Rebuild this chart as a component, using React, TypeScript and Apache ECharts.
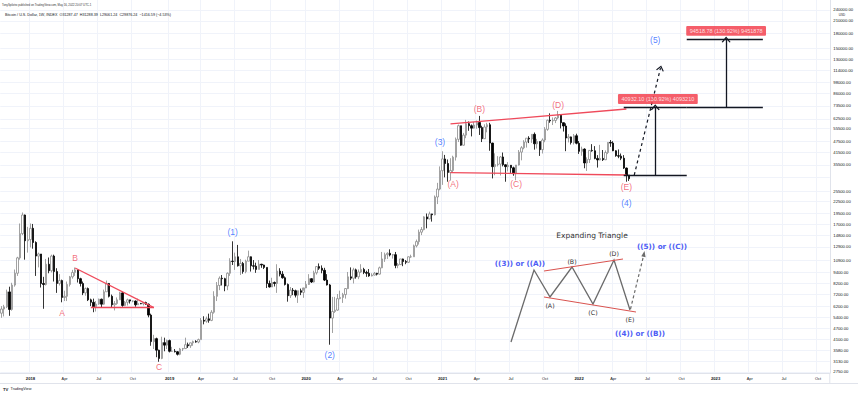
import React, { useEffect, useRef } from "react";
import * as echarts from "echarts";

// ---------- axis categories ----------
const FIRST_WEEK = "2017-10-16";
const WEEK_COUNT = 316;
const MONTH_NAMES = ["Jan", "Feb", "Mar", "Apr", "May", "Jun", "Jul", "Aug", "Sep", "Oct", "Nov", "Dec"];

// ---------- weekly candles [open, high, low, close] ----------
const weeks2017 = [
  [5680, 6200, 5370, 5980], [5980, 6300, 5460, 6140], [6140, 7600, 6050, 7390], [7390, 7880, 5500, 5950],
  [5950, 8270, 5860, 8040], [8040, 9740, 7880, 9310], [9310, 11400, 9000, 11250], [11250, 17200, 11000, 15170],
  [15170, 19700, 14900, 19100], [19100, 19200, 11000, 13900], [13900, 16500, 12000, 14100],
];
const weeks2018 = [
  [14100, 17200, 12800, 16200], [16200, 17100, 12600, 13600], [13600, 13800, 9000, 11500], [11500, 12000, 10000, 11800],
  [11800, 11800, 7800, 8200], [8200, 8900, 6000, 8100], [8100, 11100, 8000, 10400], [10400, 11300, 9300, 9600],
  [9600, 11700, 9400, 11500], [11500, 11700, 8400, 9500], [9500, 9900, 7300, 8200], [8200, 9200, 8000, 8500],
  [8500, 8600, 6500, 6900], [6900, 7500, 6600, 7000], [7000, 8400, 6600, 8100], [8100, 9000, 7900, 8900],
  [8900, 9700, 8700, 9400], [9400, 9990, 9000, 9700], [9700, 9700, 8300, 8700], [8700, 8800, 7900, 8200],
  [8200, 8400, 7100, 7300], [7300, 7800, 7050, 7700], [7700, 7800, 6600, 6700], [6700, 6800, 6200, 6500],
  [6500, 6800, 5750, 6150], [6150, 6600, 5800, 6360], [6360, 6800, 6300, 6750], [6750, 6800, 6100, 6350],
  [6350, 7600, 6300, 7400], [7400, 8500, 7400, 8200], [8200, 8250, 6900, 7000], [7000, 7150, 6100, 6300],
  [6300, 6600, 5880, 6400], [6400, 6900, 6300, 6700], [6700, 7400, 6700, 7300], [7300, 7400, 6150, 6250],
  [6250, 6600, 6200, 6500], [6500, 6800, 6250, 6700], [6700, 6700, 6400, 6600], [6600, 6650, 6500, 6600],
  [6600, 6650, 6150, 6300], [6300, 6800, 6300, 6400], [6400, 6450, 6350, 6380], [6380, 6480, 6250, 6480],
  [6480, 6550, 6300, 6350], [6350, 6400, 5400, 5550], [5550, 5650, 3800, 4000], [4000, 4350, 3650, 4150],
  [4150, 4200, 3300, 3600], [3600, 3620, 3120, 3250], [3250, 4250, 3220, 3950], [3950, 4200, 3550, 3830],
];
const weeks2019 = [
  [3830, 4100, 3650, 4050], [4050, 4100, 3500, 3550], [3550, 3750, 3530, 3550], [3550, 3650, 3500, 3530],
  [3530, 3560, 3370, 3420], [3420, 3700, 3380, 3650], [3650, 3700, 3560, 3670], [3670, 4200, 3650, 3850],
  [3850, 3950, 3700, 3800], [3800, 3950, 3700, 3940], [3940, 4050, 3800, 4000], [4000, 4070, 3950, 3980],
  [3980, 4150, 3920, 4100], [4100, 5350, 4100, 5200], [5200, 5470, 4950, 5150], [5150, 5450, 5050, 5300],
  [5300, 5650, 5050, 5200], [5200, 5900, 5150, 5750], [5750, 7450, 5650, 7000], [7000, 8350, 6600, 8000],
  [8000, 8950, 7550, 8750], [8750, 9100, 8000, 8700], [8700, 8800, 7450, 7950], [7950, 9400, 7550, 9300],
  [9300, 11200, 9000, 10800], [10800, 13800, 10300, 10750], [10750, 12000, 9700, 11400], [11400, 13200, 10100, 10200],
  [10200, 11100, 9100, 10500], [10500, 10700, 9250, 9500], [9500, 11000, 9300, 10800], [10800, 12300, 10800, 11400],
  [11400, 11450, 9500, 10200], [10200, 10950, 9750, 10150], [10150, 10600, 9350, 9750], [9750, 10950, 9750, 10400],
  [10400, 10450, 9950, 10300], [10300, 10350, 9800, 10000], [10000, 10000, 7750, 8200], [8200, 8500, 7800, 7850],
  [7850, 8800, 7850, 8300], [8300, 8400, 7900, 8200], [8200, 10400, 7300, 9550], [9550, 9900, 8950, 9200],
  [9200, 9550, 8700, 8800], [8800, 8950, 8000, 8100], [8100, 8200, 6550, 7050], [7050, 7850, 6850, 7550],
  [7550, 7750, 7100, 7500], [7500, 7600, 6900, 7100], [7100, 7500, 6450, 7500], [7500, 7700, 7100, 7350],
];
const weeks2020 = [
  [7350, 7500, 6870, 7760], [7760, 8450, 7740, 8100], [8100, 9200, 8050, 8700], [8700, 8750, 8250, 8350],
  [8350, 9600, 8300, 9350], [9350, 10150, 9150, 10100], [10100, 10500, 9700, 9900], [9900, 10250, 9300, 9650],
  [9650, 9950, 8450, 8550], [8550, 9200, 8000, 8050], [8050, 8150, 3850, 5350], [5350, 6950, 4450, 5800],
  [5800, 6950, 5700, 5900], [5900, 7200, 5850, 6800], [6800, 7500, 6750, 6900], [6900, 7300, 6450, 7150],
  [7150, 7750, 6800, 7700], [7700, 9450, 7650, 8900], [8900, 10000, 8550, 8750], [8750, 9950, 8200, 9700],
  [9700, 9850, 8700, 8900], [8900, 9750, 8650, 9450], [9450, 10400, 9350, 9750], [9750, 9950, 9200, 9400],
  [9400, 9600, 8900, 9300], [9300, 9800, 8900, 9000], [9000, 9300, 8950, 9100], [9100, 9450, 9050, 9300],
  [9300, 9350, 9050, 9200], [9200, 10100, 9150, 9950], [9950, 12100, 9900, 11100], [11100, 12000, 10700, 11700],
  [11700, 12050, 11100, 11900], [11900, 12500, 11450, 11650], [11650, 11800, 11150, 11700], [11700, 12100, 9900, 10250],
  [10250, 10550, 9900, 10350], [10350, 11100, 10300, 11100], [11100, 11150, 10150, 10750], [10750, 10950, 10400, 10650],
  [10650, 11450, 10550, 11400], [11400, 11700, 11250, 11400], [11400, 13250, 11400, 13050], [13050, 14100, 12800, 13750],
  [13750, 15950, 13250, 15450], [15450, 16450, 14900, 15950], [15950, 18800, 15800, 18650], [18650, 19450, 16200, 18200],
  [18200, 19900, 18100, 19350], [19350, 19400, 17600, 19150], [19150, 24300, 19000, 23850], [23850, 28400, 21850, 26300],
];
const weeks2021 = [
  [26300, 34800, 25900, 33000], [33000, 41950, 27700, 38150], [38150, 40100, 30400, 36050], [36050, 37900, 28800, 32300],
  [32300, 38500, 29200, 33100], [33100, 39700, 32300, 39000], [39000, 49700, 37400, 48600], [48600, 58350, 47000, 57500],
  [57500, 57500, 44900, 45200], [45200, 52600, 45000, 51200], [51200, 61800, 49300, 59000], [59000, 60600, 54000, 57500],
  [57500, 58400, 50400, 55800], [55800, 60200, 55500, 58000], [58000, 61300, 55400, 59800], [59800, 64900, 51300, 56200],
  [56200, 57500, 47000, 49000], [49000, 58500, 48800, 56600], [56600, 59600, 53000, 58200], [58200, 59600, 42200, 46400],
  [46400, 46600, 30000, 34700], [34700, 40900, 31200, 35600], [35600, 39500, 34800, 35800], [35800, 39500, 31100, 39100],
  [39100, 41300, 34800, 35500], [35500, 35700, 28800, 34700], [34700, 36700, 32700, 35300], [35300, 35400, 32100, 34200],
  [34200, 34700, 31000, 31800], [31800, 35400, 29300, 35400], [35400, 42600, 35200, 41500], [41500, 44700, 37500, 43800],
  [43800, 48100, 43000, 47000], [47000, 49300, 43900, 49300], [49300, 50500, 46400, 48800], [48800, 51900, 46500, 51700],
  [51700, 52900, 42800, 46000], [46000, 48900, 43400, 47300], [47300, 47300, 39600, 42800], [42800, 49200, 40800, 48200],
  [48200, 56500, 46900, 55000], [55000, 62000, 54000, 61500], [61500, 67000, 59600, 61000], [61000, 63700, 58000, 61300],
  [61300, 64000, 59400, 63300], [63300, 69000, 62300, 65500], [65500, 66300, 55600, 59700], [59700, 59800, 53500, 57300],
  [57300, 59200, 42000, 49400], [49400, 51900, 46800, 50100], [50100, 50300, 45600, 46700], [46700, 51900, 45600, 50800],
];
const weeks2022 = [
  [50800, 52100, 45700, 46300], [46300, 47600, 40600, 41900], [41900, 44400, 39700, 43100], [43100, 43500, 34000, 36300],
  [36300, 38900, 32900, 37900], [37900, 42600, 36300, 42400], [42400, 45800, 41700, 42200], [42200, 44700, 38000, 38400],
  [38400, 40000, 34300, 37700], [37700, 45400, 37500, 38400], [38400, 42600, 37200, 37800], [37800, 42400, 37600, 41300],
  [41300, 46900, 40500, 46800], [46800, 48200, 44300, 46400], [46400, 47500, 42000, 42200], [42200, 42500, 39200, 39700],
  [39700, 42900, 38500, 39500], [39500, 40800, 37600, 38500], [38500, 40000, 33700, 34100], [34100, 34300, 28800, 31300],
  [31287.47, 31288.39, 29061.24, 29876.24],
];

// ---------- price scale ----------
const priceAxisLabels = [
  240000, 210000, 180000, 150000, 130000, 114000, 98000, 86000, 73500, 62500, 55500, 47500, 41500, 35500,
  25500, 22500, 19500, 17000, 14800, 12900, 10900, 9400, 8200, 7200, 6200, 5400, 4700, 4100, 3580, 3130, 2750,
];
const priceGridLevels = [...priceAxisLabels, 30500];
const PRICE_MIN = 2715;
const PRICE_MAX = 271500;
const LAST_PRICE = 29876.24;
const LAST_PRICE_COUNTDOWN = "6d 2h";

// ---------- annotations (week index, price) ----------
const redWaveLabels: [string, number, number][] = [
  ["A", 23, 5700], ["B", 28, 11230], ["C", 60, 2925],
  ["(A)", 172, 28000], ["(B)", 182, 70700], ["(C)", 196, 28000], ["(D)", 212, 74300], ["(E)", 238, 26980],
];
const blueWaveLabels: [string, number, number][] = [
  ["(1)", 88, 15500], ["(2)", 125, 3390], ["(3)", 167, 47000], ["(4)", 238, 22150], ["(5)", 249, 165700],
];
const trendLines: [number, number, number, number][] = [
  [28, 9930, 58, 6080], [34, 6080, 58, 6080], [171, 58800, 238, 70700], [171, 32200, 238, 31300],
];
const measureLevels: [number, number, number][] = [
  [237, 261, 31265], [237, 261, 72197], [261, 290, 72197], [261, 290, 166715],
];
const measureArrows: [number, number, number][] = [[249, 31265, 72197], [276, 72197, 166715]];
const projectionArrow: [number, number, number, number] = [241, 31265, 251, 117000];
const rangeTags: [string, number, number][] = [
  ["40932.10 (130.92%) 4093210", 250, 79900],
  ["94518.78 (130.92%) 9451878", 276, 185400],
];

// ---------- helpers ----------
function makeWeeks(start: string, count: number): string[] {
  const t0 = Date.parse(start + "T00:00:00Z");
  const out: string[] = [];
  for (let i = 0; i < count; i++) out.push(new Date(t0 + i * 7 * 86400000).toISOString().slice(0, 10));
  return out;
}
const weekDates = makeWeeks(FIRST_WEEK, WEEK_COUNT);
const monthOf = (s: string) => Number(s.slice(5, 7)) - 1;
const isQuarterStart = (i: number) =>
  i > 0 && monthOf(weekDates[i]) % 3 === 0 && monthOf(weekDates[i]) !== monthOf(weekDates[i - 1]);

const FONT = "'Liberation Sans', Arial, sans-serif";
const DFONT = "'DejaVu Sans', Verdana, sans-serif";
const RED = "#ef4a5b";
const BLUE = "#2962ff";
const INK = "#131722";
const ln = Math.log;

function buildOption() {
  const allWeeks = [...weeks2017, ...weeks2018, ...weeks2019, ...weeks2020, ...weeks2021, ...weeks2022];
  const candleData = allWeeks.map(([o, h, l, c]) => [ln(o), ln(c), ln(l), ln(h)]);
  const pt = (w: number, p: number) => [w, ln(p)];
  const chevron = "path://M0,7 L5,0 L10,7 L8.7,7.7 L5,2.6 L1.3,7.7 Z";
  const blackLine = { color: INK, width: 1.3, type: "solid" };

  const markData: any[] = [
    ...trendLines.map(([w1, p1, w2, p2]) => [
      { coord: pt(w1, p1), lineStyle: { color: RED, width: 1.3, type: "solid" } },
      { coord: pt(w2, p2) },
    ]),
    ...measureLevels.map(([w1, w2, p]) => [{ coord: pt(w1, p), lineStyle: blackLine }, { coord: pt(w2, p) }]),
    ...measureArrows.map(([w, p1, p2]) => [
      { coord: pt(w, p1), lineStyle: blackLine },
      { coord: pt(w, p2), symbol: chevron, symbolSize: [9, 6] },
    ]),
    [
      { coord: pt(projectionArrow[0], projectionArrow[1]), lineStyle: { color: INK, width: 1.2, type: [3, 3] } },
      { coord: pt(projectionArrow[2], projectionArrow[3]), symbol: chevron, symbolSize: [8, 5.5] },
    ],
    {
      yAxis: ln(LAST_PRICE),
      lineStyle: { opacity: 0 },
      label: {
        show: true,
        position: "end",
        distance: 1,
        offset: [0, 2],
        formatter: LAST_PRICE.toFixed(2) + "\n" + LAST_PRICE_COUNTDOWN,
        backgroundColor: "#b2b5be",
        color: "#2a2e39",
        fontSize: 4.2,
        lineHeight: 4.8,
        padding: [0.6, 1.8],
        fontFamily: FONT,
      },
    },
  ];

  const textSeries = (items: [string, number, number][], color: string, fontSize: number, extra: any = {}) => ({
    type: "scatter",
    silent: true,
    symbolSize: 0,
    itemStyle: { color: "transparent" },
    z: 5,
    data: items.map(([t, w, p]) => [w, ln(p), t]),
    label: {
      show: true,
      position: "inside",
      formatter: (q: any) => q.data[2],
      color,
      fontSize,
      fontFamily: FONT,
      ...extra,
    },
  });

  const txt = (x: number, y: number, text: string, fontSize: number, fill: string, opts: any = {}) => ({
    type: "text",
    x,
    y,
    z: 10,
    style: {
      text,
      fontSize,
      fontFamily: opts.family || FONT,
      fontWeight: opts.bold ? "bold" : "normal",
      fill,
      align: opts.align || "left",
      verticalAlign: "middle",
    },
  });

  const insetGray = "#6b6b6b";
  const insetRed = "#d9534f";
  const insetBlue = "#4d5cf5";

  const graphicElements: any[] = [
    txt(2, 5, "TonySpilotro published on TradingView.com, May 16, 2022 20:07 UTC-1", 2.8, "#333"),
    txt(5, 14.8, "Bitcoin / U.S. Dollar, 1W, INDEX  O31287.47  H31288.39  L29061.24  C29876.24  \u22121416.59 (\u22124.53%)", 3.7, INK),
    txt(842, 14.6, "USD", 3, INK, { align: "center" }),
    txt(3, 389, "TV", 4.2, INK, { bold: true }),
    txt(10.5, 389, "TradingView", 3.8, INK),
    { type: "line", z: 1, shape: { x1: 0, y1: 383.5, x2: 858, y2: 383.5 }, style: { stroke: "#e0e3eb", lineWidth: 1 } },
    { type: "line", z: 1, shape: { x1: 829.8, y1: 373, x2: 829.8, y2: 383.5 }, style: { stroke: "#e0e3eb", lineWidth: 1 } },
    // Expanding triangle illustration
    txt(592, 235, "Expanding Triangle", 7.5, "#333", { family: DFONT, align: "center" }),
    {
      type: "polyline",
      z: 10,
      shape: { points: [[511, 342], [534, 270], [550, 297], [572, 267], [593, 304], [614, 260], [630, 310]] },
      style: { stroke: insetGray, lineWidth: 1.3, fill: null },
    },
    { type: "line", z: 10, shape: { x1: 544, y1: 271, x2: 623, y2: 259 }, style: { stroke: insetRed, lineWidth: 1 } },
    { type: "line", z: 10, shape: { x1: 544, y1: 297, x2: 636, y2: 312 }, style: { stroke: insetRed, lineWidth: 1 } },
    {
      type: "line",
      z: 10,
      shape: { x1: 630.5, y1: 309, x2: 643.5, y2: 256 },
      style: { stroke: insetGray, lineWidth: 1.2, lineDash: [3, 2.5] },
    },
    {
      type: "polygon",
      z: 10,
      shape: { points: [[644.5, 251], [641.3, 256.2], [645.6, 257.2]] },
      style: { fill: insetGray },
    },
    txt(520, 263, "((3)) or ((A))", 7.2, insetBlue, { family: DFONT, align: "center", bold: true }),
    txt(550, 305, "(A)", 6.3, "#333", { family: DFONT, align: "center" }),
    txt(572, 261, "(B)", 6.3, "#333", { family: DFONT, align: "center" }),
    txt(593, 312.3, "(C)", 6.3, "#333", { family: DFONT, align: "center" }),
    txt(614, 253.3, "(D)", 6.3, "#333", { family: DFONT, align: "center" }),
    txt(630, 319.3, "(E)", 6.3, "#333", { family: DFONT, align: "center" }),
    txt(662, 246, "((5)) or ((C))", 7.2, insetBlue, { family: DFONT, align: "center", bold: true }),
    txt(640, 333, "((4)) or ((B))", 7.2, insetBlue, { family: DFONT, align: "center", bold: true }),
  ];

  return {
    animation: false,
    backgroundColor: "#ffffff",
    grid: { left: 0.3, right: 30.2, top: 0, height: 373 },
    xAxis: {
      type: "category",
      data: weekDates,
      boundaryGap: true,
      axisLine: { show: true, lineStyle: { color: "#e0e3eb", width: 1 } },
      axisTick: { show: false },
      axisLabel: {
        interval: (i: number) => isQuarterStart(i),
        formatter: (v: string) => (monthOf(v) === 0 ? "{y|" + v.slice(0, 4) + "}" : MONTH_NAMES[monthOf(v)]),
        fontSize: 3.9,
        color: INK,
        margin: 3,
        fontFamily: FONT,
        rich: { y: { fontSize: 4.2, fontWeight: "bold", color: INK, fontFamily: FONT } },
      },
      splitLine: {
        show: true,
        interval: (i: number) => isQuarterStart(i),
        lineStyle: { color: "#f0f3fa", width: 1 },
      },
    },
    yAxis: {
      type: "value",
      position: "right",
      min: ln(PRICE_MIN),
      max: ln(PRICE_MAX),
      axisLine: { show: true, lineStyle: { color: "#e0e3eb", width: 1 } },
      axisTick: { show: false, customValues: priceGridLevels.map(ln) },
      axisLabel: {
        customValues: priceAxisLabels.map(ln),
        formatter: (v: number) => Math.exp(v).toFixed(2),
        fontSize: 4.2,
        color: INK,
        margin: 3.5,
        fontFamily: FONT,
      },
      splitLine: { show: true, lineStyle: { color: "#f0f3fa", width: 1 } },
    },
    series: [
      {
        type: "candlestick",
        data: candleData,
        barWidth: 1.9,
        itemStyle: {
          color: "#ffffff",
          color0: "#000000",
          borderColor: "#8a8a8a",
          borderColor0: "#000000",
          borderWidth: 0.8,
        },
        markLine: {
          silent: true,
          animation: false,
          symbol: ["none", "none"],
          label: { show: false },
          data: markData,
        },
      },
      textSeries(redWaveLabels, RED, 8.5),
      textSeries(blueWaveLabels, BLUE, 8.5),
      textSeries(rangeTags, "#ffffff", 5.5, {
        backgroundColor: "#f23645",
        padding: [2.2, 3.5],
        lineHeight: 5.5,
        borderRadius: 1,
      }),
    ],
    graphic: { elements: graphicElements },
  };
}

export default function App() {
  const ref = useRef<HTMLDivElement>(null);
  useEffect(() => {
    if (!ref.current) return;
    const chart = echarts.init(ref.current, null, { renderer: "svg" });
    chart.setOption(buildOption() as any);
    return () => chart.dispose();
  }, []);
  return <div ref={ref} style={{ position: "absolute", left: 0, top: 0, width: 860, height: 395, background: "#fff" }} />;
}
